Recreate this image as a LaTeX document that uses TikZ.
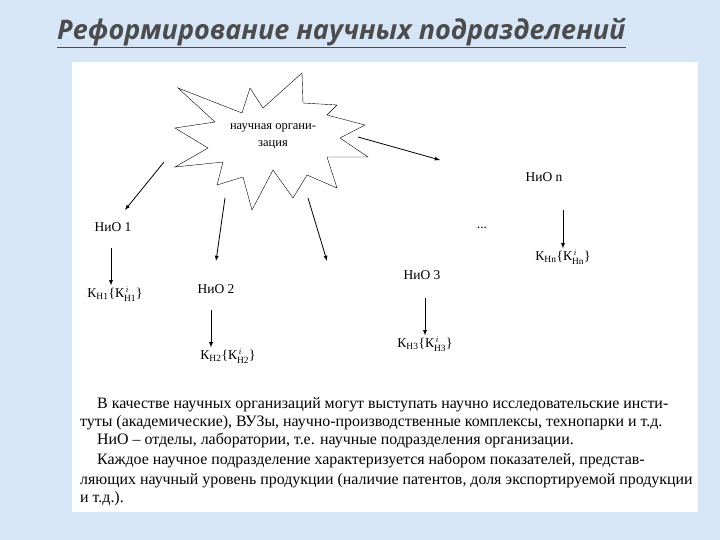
\documentclass[tikz,border=0pt]{standalone}
\usepackage{fontspec}
\setmainfont{Liberation Serif}
\newfontfamily\titlefont{Open Sans}
\definecolor{bgblue}{RGB}{214,230,246}
\begin{document}
\begin{tikzpicture}[x=1pt,y=-1pt,
  lbl/.style={font=\fontsize{13.5}{15}\selectfont,inner sep=1pt},
  arr/.style={-latex,thick},
  body/.style={font=\fontsize{15.9}{18.6}\selectfont,anchor=west,inner sep=0pt}]
\useasboundingbox (0,0) rectangle (720,540);
\fill[bgblue] (0,0) rectangle (720,540);
\fill[white] (72,62) rectangle (698,512);
\node[font=\titlefont\bfseries\itshape\fontsize{27}{30}\selectfont,text=black!70,inner sep=0pt,anchor=west] (title) at (57,33) {\underline{Реформирование научных подразделений}};
\draw[fill=white] (178,88)--(242,113)--(250,88)--(263,108)--(302,73)--(303,103)--(337,105)--(327,115)--(365,125)--(340,138)--(368,157)--(327,157)--(337,188)--(307,175)--(293,198)--(273,170)--(252,210)--(243,177)--(217,185)--(223,162)--(175,167)--(208,148)--(175,128)--(215,122)--cycle;
\node[lbl,align=center,font=\fontsize{12.5}{17}\selectfont] (org) at (273,136) {научная органи-\\зация};
\coordinate (s1) at (164,162); \coordinate (s2) at (225,198);
\coordinate (s3) at (308,198); \coordinate (sn) at (358,137);
\node[lbl] (n1) at (113,227) {НиО 1};
\node[lbl] (n2) at (216,289) {НиО 2};
\node[lbl] (n3) at (422,275) {НиО 3};
\node[lbl] (nn) at (544,177) {НиО n};
\node[lbl] (dots) at (482,228) {...};
\coordinate (e1) at (125,210); \coordinate (e2) at (216,261);
\coordinate (e3) at (327,261); \coordinate (en) at (440,160);
\draw[arr] (s1)--(e1); \draw[arr] (s2)--(e2); \draw[arr] (s3)--(e3); \draw[arr] (sn)--(en);
\node[lbl] (k1) at (115,294) {К$_{\mathrm{Н1}}$\{К$_{\mathrm{Н1}}^{\,i}$\}};
\node[lbl] (k2) at (228,356) {К$_{\mathrm{Н2}}$\{К$_{\mathrm{Н2}}^{\,i}$\}};
\node[lbl] (k3) at (425,344) {К$_{\mathrm{Н3}}$\{К$_{\mathrm{Н3}}^{\,i}$\}};
\node[lbl] (kn) at (563,257) {К$_{\mathrm{Нn}}$\{К$_{\mathrm{Нn}}^{\,i}$\}};
\draw[arr] (111,248)--(k1.north-|111,0);
\draw[arr] (211,310)--(k2.north-|211,0);
\draw[arr] (425,298)--(k3.north-|425,0);
\draw[arr] (563,210)--(kn.north-|563,0);
\node[body] (t1) at (97,405) {В качестве научных организаций могут выступать научно исследовательские инсти-};
\node[body] (t2) at (80,423) {туты (академические), ВУЗы, научно-производственные комплексы, технопарки и т.д.};
\node[body] (t3) at (97,441) {НиО -- отделы, лаборатории, т.е. научные подразделения организации.};
\node[body] (t4) at (97,461) {Каждое научное подразделение характеризуется набором показателей, представ-};
\node[body] (t5) at (80,481) {ляющих научный уровень продукции (наличие патентов, доля экспортируемой продукции};
\node[body] (t6) at (80,499) {и т.д.).};
\end{tikzpicture}
\end{document}
